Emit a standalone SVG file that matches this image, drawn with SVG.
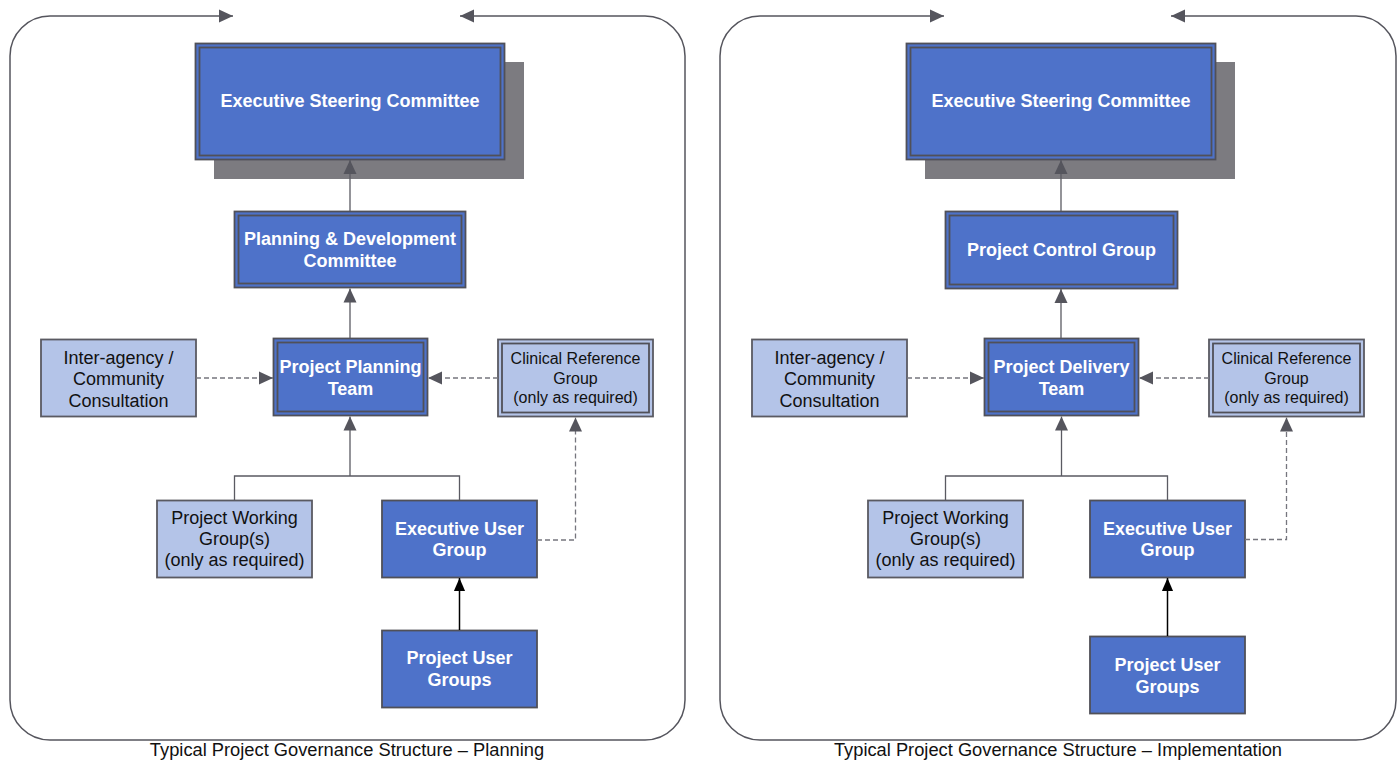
<svg xmlns="http://www.w3.org/2000/svg" width="1398" height="763" viewBox="0 0 1398 763">
<style>
.frame{fill:none;stroke:#55555d;stroke-width:1.5}
.dark{fill:#4e72c9;stroke:#505058;stroke-width:1.8}
.inner{fill:none;stroke:#505058;stroke-width:1.8}
.light{fill:#b4c4e8;stroke:#5a5a62;stroke-width:1.8}
.shadow{fill:#7c7b80}
.bt{font-family:"Liberation Sans",Arial,sans-serif;font-weight:bold;font-size:18px;fill:#ffffff;text-anchor:middle}
.rt{font-family:"Liberation Sans",Arial,sans-serif;font-size:18px;fill:#111111;text-anchor:middle}
.st{font-family:"Liberation Sans",Arial,sans-serif;font-size:16px;fill:#111111;text-anchor:middle}
.cap{font-family:"Liberation Sans",Arial,sans-serif;font-size:18.3px;fill:#111111;text-anchor:middle}
.ln{fill:none;stroke:#5a5a62;stroke-width:1.3}
.dash{fill:none;stroke:#76767e;stroke-width:1.3;stroke-dasharray:5,3}
.blk{fill:none;stroke:#000000;stroke-width:1.5}
</style>
<defs>
<marker id="ah" viewBox="0 0 14 14" refX="14" refY="7" markerWidth="14" markerHeight="14" markerUnits="userSpaceOnUse" orient="auto"><path d="M0,0.5 L14,7 L0,13.5 z" fill="#55555d"/></marker>
<marker id="ahb" viewBox="0 0 14 14" refX="14" refY="7" markerWidth="13" markerHeight="13" markerUnits="userSpaceOnUse" orient="auto"><path d="M0,1 L14,7 L0,13 z" fill="#000000"/></marker>
</defs>
<rect width="1398" height="763" fill="#ffffff"/>

<g id="frames">
<path class="frame" d="M348,740 L50,740 A40,40 0 0 1 10,700 L10,56 A40,40 0 0 1 50,16 L233,16" marker-end="url(#ah)"/>
<path class="frame" d="M348,740 L645,740 A40,40 0 0 0 685,700 L685,56 A40,40 0 0 0 645,16 L460,16" marker-end="url(#ah)"/>
<path class="frame" d="M1058,740 L760,740 A40,40 0 0 1 720,700 L720,56 A40,40 0 0 1 760,16 L944,16" marker-end="url(#ah)"/>
<path class="frame" d="M1058,740 L1356,740 A40,40 0 0 0 1396,700 L1396,56 A40,40 0 0 0 1356,16 L1171,16" marker-end="url(#ah)"/>
</g>

<!-- LEFT PANEL NODES -->
<g id="esc-left">
<rect class="shadow" x="214" y="62" width="310" height="117"/>
<rect class="dark" x="195.5" y="43.5" width="309" height="116"/>
<rect class="inner" x="199.5" y="47.5" width="301" height="108"/>
<text class="bt" x="350" y="107">Executive Steering Committee</text>
</g>
<g id="pdc-left">
<rect class="dark" x="234.5" y="211.5" width="231" height="76"/>
<rect class="inner" x="238.5" y="215.5" width="223" height="68"/>
<text class="bt" x="350" y="244.5">Planning &amp; Development</text>
<text class="bt" x="350" y="266.5">Committee</text>
</g>
<g id="ppt-left">
<rect class="dark" x="273.5" y="338.5" width="154" height="77"/>
<rect class="inner" x="277.5" y="342.5" width="146" height="69"/>
<text class="bt" x="350.5" y="373">Project Planning</text>
<text class="bt" x="350.5" y="395">Team</text>
</g>
<g id="iac-left">
<rect class="light" x="41" y="339.5" width="155" height="77"/>
<text class="rt" x="118.5" y="363.5">Inter-agency /</text>
<text class="rt" x="118.5" y="385">Community</text>
<text class="rt" x="118.5" y="406.5">Consultation</text>
</g>
<g id="crg-left">
<rect class="light" x="498" y="339.5" width="155" height="77"/>
<rect class="inner" x="502" y="343.5" width="147" height="69"/>
<text class="st" x="575.5" y="364">Clinical Reference</text>
<text class="st" x="575.5" y="383.5">Group</text>
<text class="st" x="575.5" y="403">(only as required)</text>
</g>
<g id="pwg-left">
<rect class="light" x="157" y="500.5" width="155" height="77"/>
<text class="rt" x="234.5" y="524">Project Working</text>
<text class="rt" x="234.5" y="545">Group(s)</text>
<text class="rt" x="234.5" y="566">(only as required)</text>
</g>
<g id="eug-left">
<rect class="dark" x="382" y="500.5" width="155" height="77"/>
<text class="bt" x="459.5" y="534.5">Executive User</text>
<text class="bt" x="459.5" y="555.5">Group</text>
</g>
<g id="pug-left">
<rect class="dark" x="382" y="630.5" width="155" height="77"/>
<text class="bt" x="459.5" y="663.5">Project User</text>
<text class="bt" x="459.5" y="685.5">Groups</text>
</g>
<text class="cap" x="347" y="755.5">Typical Project Governance Structure – Planning</text>

<!-- RIGHT PANEL NODES -->
<g id="esc-right">
<rect class="shadow" x="925" y="62" width="310" height="117"/>
<rect class="dark" x="906.5" y="43.5" width="309" height="116"/>
<rect class="inner" x="910.5" y="47.5" width="301" height="108"/>
<text class="bt" x="1061" y="107">Executive Steering Committee</text>
</g>
<g id="pcg-right">
<rect class="dark" x="945.5" y="211.5" width="232" height="77"/>
<rect class="inner" x="949.5" y="215.5" width="224" height="69"/>
<text class="bt" x="1061.5" y="255.5">Project Control Group</text>
</g>
<g id="pdt-right">
<rect class="dark" x="984.5" y="338.5" width="154" height="77"/>
<rect class="inner" x="988.5" y="342.5" width="146" height="69"/>
<text class="bt" x="1061.5" y="373">Project Delivery</text>
<text class="bt" x="1061.5" y="395">Team</text>
</g>
<g id="iac-right">
<rect class="light" x="752" y="339.5" width="155" height="77"/>
<text class="rt" x="829.5" y="363.5">Inter-agency /</text>
<text class="rt" x="829.5" y="385">Community</text>
<text class="rt" x="829.5" y="406.5">Consultation</text>
</g>
<g id="crg-right">
<rect class="light" x="1209" y="339.5" width="155" height="77"/>
<rect class="inner" x="1213" y="343.5" width="147" height="69"/>
<text class="st" x="1286.5" y="364">Clinical Reference</text>
<text class="st" x="1286.5" y="383.5">Group</text>
<text class="st" x="1286.5" y="403">(only as required)</text>
</g>
<g id="pwg-right">
<rect class="light" x="868" y="500.5" width="155" height="77"/>
<text class="rt" x="945.5" y="524">Project Working</text>
<text class="rt" x="945.5" y="545">Group(s)</text>
<text class="rt" x="945.5" y="566">(only as required)</text>
</g>
<g id="eug-right">
<rect class="dark" x="1090" y="500.5" width="155" height="77"/>
<text class="bt" x="1167.5" y="534.5">Executive User</text>
<text class="bt" x="1167.5" y="555.5">Group</text>
</g>
<g id="pug-right">
<rect class="dark" x="1090" y="636.5" width="155" height="77"/>
<text class="bt" x="1167.5" y="670.5">Project User</text>
<text class="bt" x="1167.5" y="692.5">Groups</text>
</g>
<text class="cap" x="1058" y="755.5">Typical Project Governance Structure – Implementation</text>

<g id="connectors">
<!-- left panel -->
<line class="ln" x1="350" y1="211" x2="350" y2="160" marker-end="url(#ah)"/>
<line class="ln" x1="350" y1="338" x2="350" y2="288.5" marker-end="url(#ah)"/>
<path class="ln" d="M234.5,500 L234.5,476 L459.5,476 L459.5,500"/>
<line class="ln" x1="350" y1="476" x2="350" y2="416.5" marker-end="url(#ah)"/>
<line class="dash" x1="196" y1="378" x2="273" y2="378" marker-end="url(#ah)"/>
<line class="dash" x1="498" y1="378" x2="428" y2="378" marker-end="url(#ah)"/>
<path class="dash" d="M537,540 L575.5,540 L575.5,417.5" marker-end="url(#ah)"/>
<line class="blk" x1="459.5" y1="630" x2="459.5" y2="578" marker-end="url(#ahb)"/>
<!-- right panel -->
<line class="ln" x1="1061" y1="211" x2="1061" y2="160" marker-end="url(#ah)"/>
<line class="ln" x1="1061" y1="338" x2="1061" y2="289" marker-end="url(#ah)"/>
<path class="ln" d="M945.5,500 L945.5,476 L1167.5,476 L1167.5,500"/>
<line class="ln" x1="1061.5" y1="476" x2="1061.5" y2="416.5" marker-end="url(#ah)"/>
<line class="dash" x1="907" y1="378" x2="984" y2="378" marker-end="url(#ah)"/>
<line class="dash" x1="1209" y1="378" x2="1139" y2="378" marker-end="url(#ah)"/>
<path class="dash" d="M1245,539.5 L1286.5,539.5 L1286.5,417.5" marker-end="url(#ah)"/>
<line class="blk" x1="1167.5" y1="636" x2="1167.5" y2="578" marker-end="url(#ahb)"/>
</g>
</svg>
